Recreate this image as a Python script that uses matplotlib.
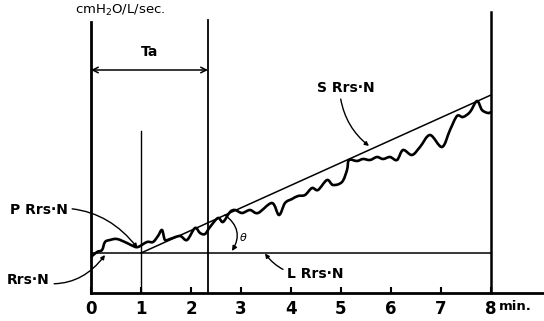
import matplotlib
matplotlib.use("Agg")
import matplotlib.pyplot as plt
from matplotlib.path import Path
from matplotlib.patches import PathPatch

# Data (minutes, resistance in arbitrary chart units)
curve_x = [0.0, 0.12, 0.22, 0.28, 0.38, 0.52, 0.72, 0.84, 0.94, 1.12, 1.24, 1.34, 1.42, 1.48,
           1.58, 1.78, 1.92, 2.08, 2.18, 2.28, 2.38, 2.54, 2.64, 2.78, 2.88, 3.02, 3.18, 3.34,
           3.62, 3.76, 3.88, 4.02, 4.14, 4.28, 4.42, 4.54, 4.72, 4.84, 5.02, 5.12, 5.16, 5.32,
           5.44, 5.58, 5.72, 5.84, 5.98, 6.12, 6.24, 6.42, 6.58, 6.78, 7.02, 7.18, 7.32, 7.44,
           7.58, 7.72, 7.82, 7.94, 8.0]
curve_y = [3.6, 4.1, 4.3, 5.1, 5.3, 5.4, 5.0, 4.7, 4.6, 5.1, 5.1, 5.7, 6.3, 5.3,
           5.4, 5.7, 5.3, 6.5, 6.0, 5.9, 6.6, 7.5, 7.1, 8.1, 8.3, 8.0, 8.3, 8.0,
           9.0, 7.8, 9.0, 9.4, 9.7, 9.8, 10.5, 10.3, 11.3, 10.8, 11.1, 12.3, 13.3, 13.2,
           13.4, 13.3, 13.6, 13.4, 13.6, 13.3, 14.3, 13.8, 14.6, 15.8, 14.6, 16.3, 17.7, 17.6,
           18.1, 19.2, 18.3, 18.0, 18.1]
slope_x = [1.0, 8.0]
slope_y = [4.0, 19.8]
level_L = 4.0
t_a = 2.34
xticks = [0, 1, 2, 3, 4, 5, 6, 7, 8]
xtick_labels = ["0", "1", "2", "3", "4", "5", "6", "7", "8"]

W, H = 544, 321
fig = plt.figure(figsize=(W / 100, H / 100), dpi=100)
ax = fig.add_axes([91 / W, (H - 293) / H, 453 / W, 280 / H])
ax.set_xlim(0, 9.06)
ax.set_ylim(0, 28)
for s in ["left", "right", "top"]:
    ax.spines[s].set_visible(False)
ax.spines["bottom"].set_linewidth(2.0)
ax.set_yticks([])
ax.set_xticks(xticks)
ax.set_xticklabels(xtick_labels, fontsize=12, fontweight="bold")
ax.tick_params(axis="x", direction="in", length=4, width=1.5, pad=5)

k = "black"
# Vertical lines
ax.plot([0, 0], [0, 27.1], color=k, lw=2.0, clip_on=False)
ax.plot([8, 8], [0, 28.1], color=k, lw=1.8, clip_on=False)
ax.plot([t_a, t_a], [0, 27.3], color=k, lw=1.3, clip_on=False)
ax.plot([1, 1], [0, 16.2], color=k, lw=1.0)

# L line, slope line
ax.plot([0, 8], [level_L, level_L], color=k, lw=1.1)
ax.plot(slope_x, slope_y, color=k, lw=1.1)

# Smooth curve through the traced points (Bezier segments drawn by matplotlib)
verts = [(curve_x[0], curve_y[0])]
codes = [Path.MOVETO]
n = len(curve_x)
for i in range(n - 1):
    p0 = (curve_x[max(i - 1, 0)], curve_y[max(i - 1, 0)])
    p1 = (curve_x[i], curve_y[i])
    p2 = (curve_x[i + 1], curve_y[i + 1])
    p3 = (curve_x[min(i + 2, n - 1)], curve_y[min(i + 2, n - 1)])
    c1 = (p1[0] + (p2[0] - p0[0]) / 6, p1[1] + (p2[1] - p0[1]) / 6)
    c2 = (p2[0] - (p3[0] - p1[0]) / 6, p2[1] - (p3[1] - p1[1]) / 6)
    verts += [c1, c2, p2]
    codes += [Path.CURVE4] * 3
ax.add_patch(PathPatch(Path(verts, codes), facecolor="none", edgecolor=k, lw=1.9,
                       capstyle="round", joinstyle="round"))

# Ta arrow
ax.annotate("", xy=(0, 22.3), xytext=(t_a, 22.3),
            arrowprops=dict(arrowstyle="<->", color=k, lw=1.1, shrinkA=0, shrinkB=0,
                            mutation_scale=10))
ax.text(t_a / 2, 23.4, "Ta", ha="center", va="bottom", fontsize=10, fontweight="bold")

# Unit labels
ax.text(0.58, 28.3, "cmH$_2$O/L/sec.", ha="center", va="center", fontsize=9.5,
        clip_on=False)
ax.text(8.48, -1.4, "min.", ha="center", va="center", fontsize=9.5, fontweight="bold",
        clip_on=False)

lab = dict(fontsize=10, fontweight="bold", clip_on=False)
arr = dict(arrowstyle="-|>", color=k, lw=1.0, mutation_scale=6, shrinkA=1, shrinkB=0)

ax.annotate("P Rrs·N", xy=(0.93, 4.5), xytext=(-0.46, 8.3), ha="right", va="center",
            arrowprops=dict(arr, connectionstyle="arc3,rad=-0.3"), annotation_clip=False, **lab)
ax.annotate("Rrs·N", xy=(0.28, 3.8), xytext=(-0.82, 1.3), ha="right", va="center",
            arrowprops=dict(arr, connectionstyle="arc3,rad=0.35"), annotation_clip=False, **lab)
ax.annotate("L Rrs·N", xy=(3.48, 3.95), xytext=(3.92, 1.9), ha="left", va="center",
            arrowprops=dict(arr, connectionstyle="arc3,rad=-0.3"), annotation_clip=False, **lab)
ax.annotate("S Rrs·N", xy=(5.56, 14.7), xytext=(4.52, 20.5), ha="left", va="center",
            arrowprops=dict(arr, connectionstyle="arc3,rad=0.2", relpos=(0.4, 0.0)),
            annotation_clip=False, **lab)
ax.annotate("", xy=(2.82, 4.2), xytext=(2.68, 7.8),
            arrowprops=dict(arrowstyle="-|>", color=k, lw=1.0, mutation_scale=7,
                            shrinkA=0, shrinkB=0, connectionstyle="arc3,rad=-0.45"))
ax.text(3.04, 5.6, r"$\theta$", ha="center", va="center", fontsize=8)

fig.savefig("out.png", dpi=100)
